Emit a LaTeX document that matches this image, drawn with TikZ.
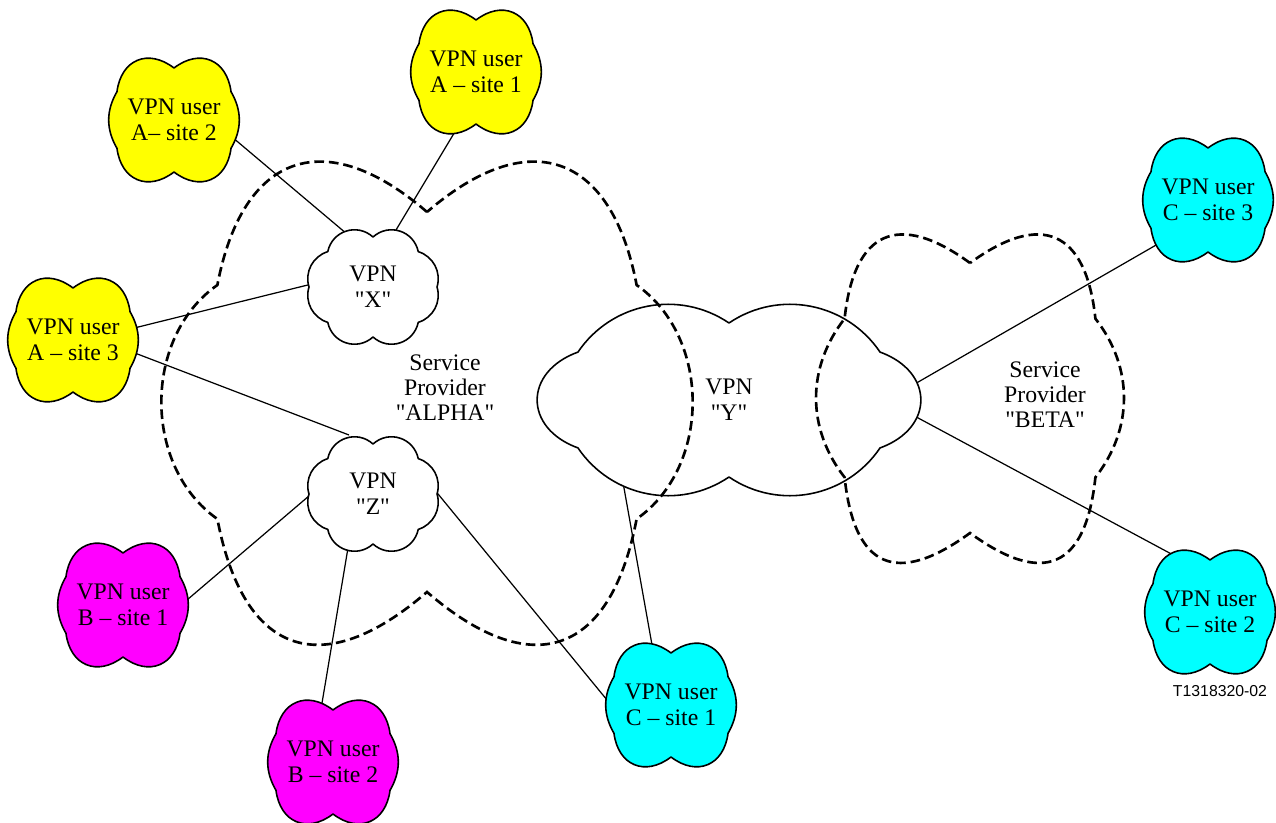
\documentclass[tikz,border=0pt]{standalone}
\usepackage{fontspec}
\setmainfont{Liberation Serif}
\setsansfont{Liberation Sans}
\usepackage{tikz}
\usetikzlibrary{calc,backgrounds}
\usepackage{xcolor}
\definecolor{siteyellow}{RGB}{255,255,0}
\definecolor{sitemagenta}{RGB}{255,0,255}
\definecolor{sitecyan}{RGB}{0,255,255}
\newcommand{\qt}[1]{\textquotedbl#1\textquotedbl}

% cloud outline: notches on an ellipse, one puff between two notches
\newcommand{\puffcloud}[5][]{%
	\draw[#1] ($(#2)+(0,#4)$) \foreach \t/\bnd/\lsn in #5 {to[bend right=\bnd, looseness=\lsn] ($(#2)+({#3*cos(\t)},{#4*sin(\t)})$)} -- cycle;}
\def\userpuffs{147/60/1.35,213/30/1,270/60/1.35,327/60/1.35,393/30/1,450/60/1.35}
\def\vpnpuffs{135/60/1.15,180/45/1,225/45/1,270/60/1.15,315/60/1.15,360/45/1,405/45/1,450/60/1.15}
\def\ypuffs{141.5/45/1,218.5/70/1.55,270/45/1,321.5/45/1,398.5/70/1.55,450/45/1}
\def\alphapuffs{142/60/1.55,218/55/1,270/60/1.6,322/60/1.6,398/55/1,450/60/1.55}
\def\betapuffs{144/60/1.65,216/38/1,270/60/1.7,324/60/1.7,396/38/1,450/60/1.65}

\tikzset{
	cloudline/.style={line width=0.9pt, line join=round},
	provider/.style={line width=1.5pt, dash pattern=on 5.5pt off 2.8pt},
	link/.style={line width=0.7pt},
	cloudtext/.style={align=center, inner sep=0pt, font=\fontsize{13.5}{15}\selectfont},
	label/.style={align=center, inner sep=0pt, font=\fontsize{13.5}{14.2}\selectfont}
}

\begin{document}
\begin{tikzpicture}
	\useasboundingbox (0,0) rectangle (25.52,16.44);
	\node[cloudtext] (a2) at (3.48,14.04) {VPN user\\A-- site 2};
	\node[cloudtext] (a1) at (9.52,15.0) {VPN user\\A -- site 1};
	\node[cloudtext] (a3) at (1.46,9.64) {VPN user\\A -- site 3};
	\node[cloudtext] (b1) at (2.46,4.34) {VPN user\\B -- site 1};
	\node[cloudtext] (b2) at (6.66,1.2) {VPN user\\B -- site 2};
	\node[cloudtext] (c1) at (13.42,2.34) {VPN user\\C -- site 1};
	\node[cloudtext] (c3) at (24.16,12.44) {VPN user\\C -- site 3};
	\node[cloudtext] (c2) at (24.2,4.2) {VPN user\\C -- site 2};
	\node[cloudtext] (vx) at (7.46,10.7) {VPN\\\qt{X}};
	\node[cloudtext] (vz) at (7.46,6.56) {VPN\\\qt{Z}};
	\node[cloudtext] (vy) at (14.58,8.44) {VPN\\\qt{Y}};
	\node[label] (alpha) at (8.9,8.68) {Service\\Provider\\\qt{ALPHA}};
	\node[label] (beta) at (20.9,8.54) {Service\\Provider\\\qt{BETA}};
	\node[font=\sffamily\fontsize{9}{11}\selectfont] (tag) at (24.4,2.62) {T1318320-02};
	\begin{scope}[on background layer]
		\draw[link] ($(a2)+(0.52,0.2)$) -- ($(vx)+(-0.26,0.84)$);
		\draw[link] ($(a1)+(-0.16,-0.76)$) -- ($(vx)+(0.22,0.74)$);
		\draw[link] ($(a3)+(0.74,0.12)$) -- ($(vx)+(-0.86,0.15)$);
		\draw[link] ($(a3)+(0.74,-0.07)$) -- ($(vz)+(-0.48,1.18)$);
		\draw[link] ($(b1)+(0.74,-0.36)$) -- ($(vz)+(-0.86,0.32)$);
		\draw[link] ($(b2)+(-0.31,0.64)$) -- ($(vz)+(-0.44,-0.72)$);
		\draw[link] ($(vz)+(0.94,0.44)$) -- ($(c1)+(-0.82,-0.46)$);
		\draw[link] ($(c1)+(-0.29,0.7)$) -- ($(vy)+(-2.2,-1.2)$);
		\draw[link] ($(vy)+(3.02,-0.08)$) -- ($(c3)+(-0.36,-0.51)$);
		\draw[link] ($(vy)+(3.02,0.05)$) -- ($(c2)+(-0.4,0.96)$);
		\puffcloud[cloudline, fill=white]{vy}{3.86}{1.54}{\ypuffs}
		\puffcloud[provider]{8.54,8.4}{5.32}{3.8}{\alphapuffs}
		\puffcloud[provider]{19.4,8.48}{3.1}{2.7}{\betapuffs}
		\puffcloud[cloudline, fill=white]{vx}{1.28}{1.0}{\vpnpuffs}
		\puffcloud[cloudline, fill=white]{vz}{1.28}{1.0}{\vpnpuffs}
		\puffcloud[cloudline, fill=siteyellow]{a2}{1.36}{1.04}{\userpuffs}
		\puffcloud[cloudline, fill=siteyellow]{a1}{1.36}{1.04}{\userpuffs}
		\puffcloud[cloudline, fill=siteyellow]{a3}{1.36}{1.04}{\userpuffs}
		\puffcloud[cloudline, fill=sitemagenta]{b1}{1.36}{1.04}{\userpuffs}
		\puffcloud[cloudline, fill=sitemagenta]{b2}{1.36}{1.04}{\userpuffs}
		\puffcloud[cloudline, fill=sitecyan]{c1}{1.36}{1.04}{\userpuffs}
		\puffcloud[cloudline, fill=sitecyan]{c3}{1.36}{1.04}{\userpuffs}
		\puffcloud[cloudline, fill=sitecyan]{c2}{1.36}{1.04}{\userpuffs}
	\end{scope}
\end{tikzpicture}
\end{document}
